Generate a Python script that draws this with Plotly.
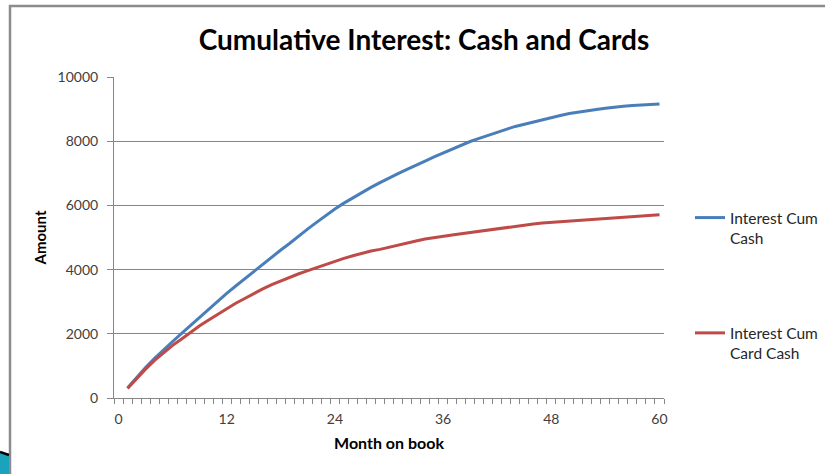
import plotly.graph_objects as go

# Month on book (categories 0..60, data from month 1)
months = list(range(1, 61))

interest_cum_cash = [
    310, 640, 950, 1240, 1510, 1760, 2010, 2260, 2520, 2780,
    3000, 3260, 3490, 3720, 3950, 4170, 4390, 4610, 4820, 5060,
    5270, 5480, 5690, 5890, 6070, 6240, 6410, 6560, 6710, 6860,
    6990, 7120, 7260, 7380, 7510, 7630, 7750, 7880, 7990, 8090,
    8190, 8280, 8370, 8460, 8530, 8600, 8680, 8740, 8800, 8860,
    8910, 8960, 8990, 9030, 9070, 9090, 9110, 9130, 9150, 9160,
]

interest_cum_card_cash = [
    300, 610, 900, 1170, 1410, 1640, 1840, 2050, 2250, 2430,
    2610, 2790, 2950, 3100, 3260, 3400, 3530, 3650, 3770, 3870,
    3970, 4070, 4170, 4260, 4350, 4430, 4510, 4580, 4630, 4700,
    4770, 4830, 4890, 4950, 5000, 5040, 5080, 5120, 5160, 5200,
    5240, 5280, 5320, 5350, 5390, 5420, 5450, 5470, 5500, 5520,
    5540, 5560, 5580, 5600, 5620, 5640, 5660, 5680, 5690, 5710,
]

x_ticks = [0, 12, 24, 36, 48, 60]
y_ticks = [0, 2000, 4000, 6000, 8000, 10000]

W, H = 825, 474
L, R, T, B = 114, 161, 77, 76
pw, ph = W - L - R, H - T - B


def px(x):
    return (x - L) / pw


def py(y):
    return (H - B - y) / ph


GRID = "#868686"
FONT = "Lato"

fig = go.Figure()
fig.add_trace(go.Scatter(
    x=months, y=interest_cum_cash, mode="lines",
    name="Interest Cum<br>Cash", legendgroup="cash",
    line=dict(color="#4A7EBB", width=3),
))
fig.add_trace(go.Scatter(
    x=months, y=interest_cum_card_cash, mode="lines",
    name="Interest Cum<br>Card Cash", legendgroup="card",
    line=dict(color="#BE4B48", width=3),
))

fig.update_layout(
    width=W, height=H,
    margin=dict(l=L, r=R, t=T, b=B, autoexpand=False),
    paper_bgcolor="white", plot_bgcolor="white",
    font=dict(family=FONT, size=14, color="#404040"),
    title=dict(
        # zero-width non-joiner keeps "t" and "i" as separate glyphs
        text="<b>Cumula\u200ctive Interest: Cash and Cards</b>",
        font=dict(family=FONT, size=28, color="black"),
        x=424 / W, xref="container", xanchor="center",
        y=1 - 40 / H, yref="container", yanchor="middle",
    ),
    legend=dict(
        x=px(690), y=py(201), xanchor="left", yanchor="top",
        font=dict(family=FONT, size=15.5, color="#262626"),
        valign="top", tracegroupgap=72, bgcolor="rgba(0,0,0,0)",
        itemwidth=30,
    ),
    showlegend=True,
)

fig.update_xaxes(
    range=[-0.5, 60.5],
    tickmode="array", tickvals=x_ticks, ticktext=[str(v) for v in x_ticks],
    ticks="", ticklabelstandoff=8,
    showgrid=False, zeroline=False,
    showline=True, linecolor=GRID, linewidth=1,
    minor=dict(ticks="outside", tick0=-0.5, dtick=1, ticklen=5,
               tickcolor=GRID, tickwidth=1, showgrid=False),
    title=dict(text="<b>Month on book</b>",
               font=dict(family=FONT, size=16, color="black"), standoff=12),
    tickfont=dict(family=FONT, size=14, color="#404040"),
)

fig.update_yaxes(
    range=[0, 10000],
    tickmode="array", tickvals=y_ticks, ticktext=[str(v) for v in y_ticks],
    ticks="outside", ticklen=6, tickcolor=GRID, ticklabelstandoff=6,
    showgrid=True, gridcolor=GRID, gridwidth=1, zeroline=False,
    showline=True, linecolor=GRID, linewidth=1,
    title=dict(text="<b>Amount</b>",
               font=dict(family=FONT, size=15, color="black"), standoff=7),
    tickfont=dict(family=FONT, size=14, color="#404040"),
)

# frame along the left and top edges of the chart area
fig.add_shape(type="path", xref="paper", yref="paper",
              path=f"M {px(10)} {py(H)} L {px(10)} {py(6)} L {px(W)} {py(6)}",
              line=dict(color="#8C8C8C", width=2.5), layer="below")

# corner ornament at the bottom left
fig.add_shape(type="path", xref="paper", yref="paper",
              path=f"M {px(0)} {py(452)} L {px(9)} {py(455)} L {px(9)} {py(H)} L {px(0)} {py(H)} Z",
              fillcolor="#1BA3BE", line=dict(color="#1BA3BE", width=0))
fig.add_shape(type="line", xref="paper", yref="paper",
              x0=px(0), y0=py(452), x1=px(9), y1=py(455),
              line=dict(color="black", width=2.5))

fig.write_html("out.html")
